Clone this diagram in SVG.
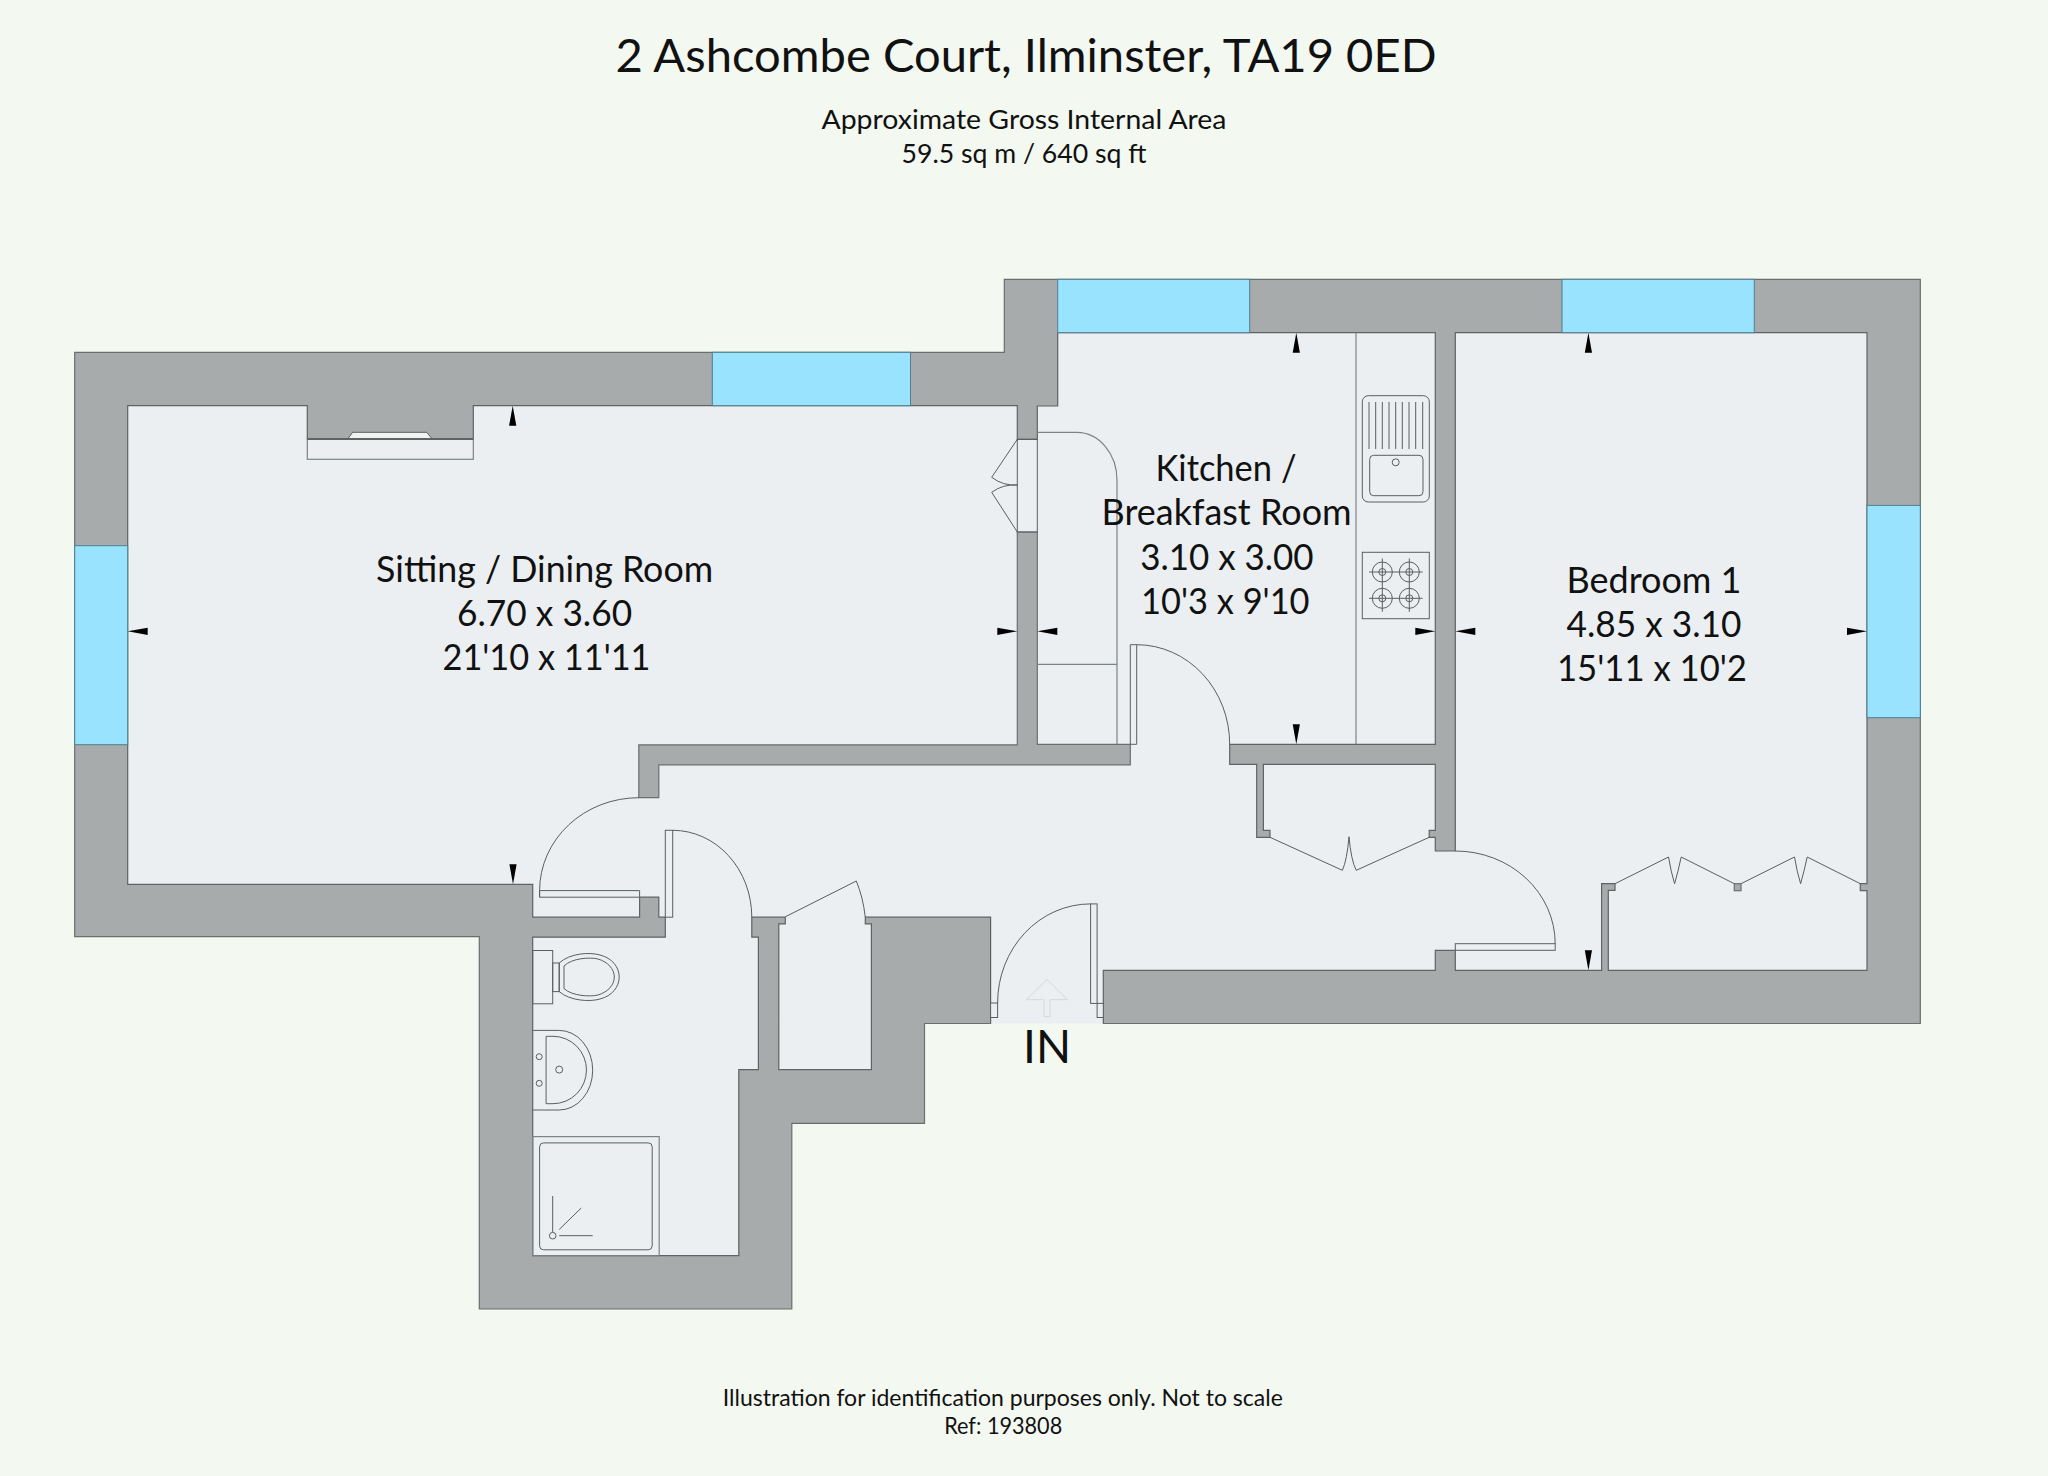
<svg xmlns="http://www.w3.org/2000/svg" xmlns:xlink="http://www.w3.org/1999/xlink" width="2048" height="1476" viewBox="0 0 2048 1476">
<style>
.wall{fill:#a8abab;stroke:#6a6e6e;stroke-width:1.2}
.floor{fill:#ebeff1}
.edge{fill:none;stroke:#5f6363;stroke-width:1.2}
.win{fill:#99e3fe;stroke:#4f7f90;stroke-width:1}
.ln{fill:none;stroke:#5a5e5e;stroke-width:1}
.lg{fill:none;stroke:#7d8282;stroke-width:1.2}
.lb{fill:#ebeff1;stroke:#5a5e5e;stroke-width:1}
.t{font-family:"Lato","Noto Sans",sans-serif;fill:#111;text-anchor:middle}
.big{font-size:47px}
.room{font-size:36px}
.sub{font-size:27.5px}
.foot{font-size:23.5px}
</style>
<defs>
<path id="arrow" d="M0 0L3.6 20H-3.6Z" fill="#000"/>
</defs>
<rect width="2048" height="1476" fill="#f3f8f0"/>

<path id="shell" class="wall" d="M74.7 352.3H1004.3V279.3H1920.3V1023.5H1103.3V1000H990.6V1023.5H924.5V1123.3H791.8V1309H479.3V936.6H74.7Z"/>
<path id="floor-fill" class="floor" d="M990.6 1023.5V917.2H865.3V923.9H871.4V1069.6H778.8V923.9H785.3V917.2H751.8V937.2H758.4V1069.6H738.8V1255.7H532.7V937.2H665.3V917.2H658.8V897.2H639.6V917.2H532.7V884.3H127.7V405.7H307.3V439H473.3V405.7H1017.3V439.3H1037.3V406H1057.7V332.7H1435.3V744.3H1229.7V764.3H1256.7V837.3H1270V830.3H1263.4V764.3H1435.3V830.3H1429.2V837.3H1435.3V851H1455.3V332.7H1867V883.7H1860.3V890.7H1867V970.3H1608.3V890.3H1615V883.7H1601.6V970.3H1455.3V950.3H1435.3V970.3H1103.3V1023.5Z"/>
<path id="floor-edge" class="edge" d="M990.6 1023.5V917.2H865.3V923.9H871.4V1069.6H778.8V923.9H785.3V917.2H751.8V937.2H758.4V1069.6H738.8V1255.7H532.7V937.2H665.3V917.2H658.8V897.2H639.6V917.2H532.7V884.3H127.7V405.7H307.3V439H473.3V405.7H1017.3V439.3H1037.3V406H1057.7V332.7H1435.3V744.3H1229.7V764.3H1256.7V837.3H1270V830.3H1263.4V764.3H1435.3V830.3H1429.2V837.3H1435.3V851H1455.3V332.7H1867V883.7H1860.3V890.7H1867V970.3H1608.3V890.3H1615V883.7H1601.6V970.3H1455.3V950.3H1435.3V970.3H1103.3V1023.5"/>
<path id="wall-hall" class="wall" d="M1017.3 532H1037.3V744.3H1130.3V764.8H658.8V797.7H638.8V744.8H1017.3Z"/>
<rect id="wardrobe-post" class="wall" x="1734.3" y="883.7" width="6.7" height="7"/>

<g id="windows">
<rect class="win" x="712.3" y="352.3" width="198.2" height="53.4"/>
<rect class="win" x="1057.7" y="279.3" width="192" height="53.4"/>
<rect class="win" x="1562" y="279.3" width="192.3" height="53.4"/>
<rect class="win" x="74.7" y="545.7" width="53" height="199"/>
<rect class="win" x="1867" y="505.4" width="53.3" height="212.3"/>
</g>

<g id="fireplace">
<rect class="lg" x="307.3" y="439" width="166" height="20.3"/>
<path d="M347.7 439L352.7 432.3H426.7L432.3 439Z" fill="#f2f4f4" stroke="#5a5e5e" stroke-width="1"/>
<path d="M307.3 439H473.3" fill="none" stroke="#5f6363" stroke-width="2"/>
</g>

<g id="doors">
<rect class="ln" x="1017.3" y="439.3" width="20" height="92.7"/>
<path class="ln" d="M1017.3 439.3L991.7 477.3Q1003 486 1017.3 485Q1003 484 991.7 492.3L1017.3 532"/>
<path class="lg" d="M1037.3 432.3H1076.7A40.3 47.7 0 0 1 1117 480V744.3M1037.3 664.3H1117"/>
<path class="ln" d="M1130.3 644.7H1136.7V744.3H1130.3Z"/>
<path class="ln" d="M1136.7 644.7A93 99.6 0 0 1 1229.7 744.3"/>
<path class="lb" d="M539.6 890.6H639.6V897.2H539.6Z"/>
<path class="ln" d="M638.8 797.7A99.2 92.9 0 0 0 539.6 890.6V897.2"/>
<rect class="lb" x="665.3" y="830.3" width="7.4" height="86.9"/>
<path class="ln" d="M672.7 830.3A79.1 86.9 0 0 1 751.8 917.2"/>
<path class="ln" d="M785.3 916.8L856.3 881Q863 897 865.3 917.2"/>
<rect class="lb" x="1455.3" y="943.7" width="99.9" height="6.6"/>
<path class="ln" d="M1455.3 851A99.9 92.7 0 0 1 1555.2 943.7"/>
<rect class="lb" x="990.6" y="1003" width="7" height="14.5"/>
<path class="ln" d="M997.6 1003A93 99.1 0 0 1 1090.6 903.9"/>
<rect class="lb" x="1090.6" y="903.9" width="6.5" height="99.5"/>
<rect class="lb" x="1097.1" y="1003.4" width="6.2" height="14.1"/>
<path class="ln" d="M1270 837.3L1342.4 870.3Q1347 860 1349 836.7Q1351 860 1356.2 870.3L1429.2 837.3"/>
<path class="ln" d="M1615 883.7L1668.5 857Q1671 872 1674.6 883.7Q1678 872 1681.2 857L1734.3 883.7M1741 883.7L1794.5 857Q1797 872 1800.6 883.7Q1804 872 1807.2 857L1860.3 883.7"/>
<path d="M1047 979.4L1067.3 999.7H1050V1016.7H1044V999.7H1026.5Z" fill="none" stroke="#d4d8d8" stroke-width="1"/>
</g>

<g id="kitchen-units">
<path class="lg" d="M1356 332.7V744.3"/>
<rect class="ln" x="1362.3" y="395.7" width="67" height="106.3" rx="6"/>
<rect class="ln" x="1369.7" y="455.3" width="53.3" height="40.4" rx="4"/>
<circle class="ln" cx="1395.7" cy="462.3" r="3.5"/>
<path class="ln" d="M1369 402V449M1375.7 402V449M1382.3 402V449M1389 402V449M1395.7 402V449M1402.3 402V449M1409 402V449M1415.7 402V449M1422.7 402V449"/>
<rect class="ln" x="1362.3" y="552.3" width="67" height="66.4"/>
<g class="ln">
<circle cx="1382.3" cy="572" r="10"/><circle cx="1382.3" cy="572" r="3.5"/>
<circle cx="1409.3" cy="572" r="10"/><circle cx="1409.3" cy="572" r="3.5"/>
<circle cx="1382.3" cy="598.3" r="10"/><circle cx="1382.3" cy="598.3" r="3.5"/>
<circle cx="1409.3" cy="598.3" r="10"/><circle cx="1409.3" cy="598.3" r="3.5"/>
<path d="M1369 572H1422.6M1369 598.3H1422.6M1382.3 558.5V611.8M1409.3 558.5V611.8"/>
</g>
</g>

<g id="bathroom">
<rect class="ln" x="532.7" y="950.5" width="20" height="53.3"/>
<rect class="ln" x="552.7" y="963" width="6.5" height="28.6"/>
<path class="ln" d="M559.2 963C570 953 590 952 600 955C612 958 619.2 967 619.2 977C619.2 987 612 996 600 999C590 1002 570 1001 559.2 991.6Z"/>
<path class="ln" d="M564 966C572 958 590 957 598 959C608 962 614.3 969 614.3 977C614.3 985 608 992 598 995C590 997 572 996 564 988.6Z"/>
<path class="ln" d="M532.7 1030.4H559.2A33.5 39.8 0 0 1 559.2 1110H532.7"/>
<path class="ln" d="M546.1 1036.3H553A33.5 33.7 0 0 1 553 1103.7H546.1Z"/>
<circle class="ln" cx="539.2" cy="1056.7" r="3"/>
<circle class="ln" cx="539.2" cy="1083.3" r="3"/>
<circle class="ln" cx="559.2" cy="1069.6" r="3.5"/>
<rect class="lg" x="532.7" y="1136.6" width="126.5" height="119.1"/>
<rect class="ln" x="539.6" y="1142.9" width="112.6" height="106.9" rx="4"/>
<circle class="ln" cx="552.7" cy="1235.7" r="3.3"/>
<path class="ln" d="M552.7 1196V1232M559.2 1235.7H592.7M559.2 1229.5L581.2 1208"/>
</g>

<g id="dimension-arrows">
<use xlink:href="#arrow" href="#arrow" transform="translate(512.7 405.7)"/>
<use xlink:href="#arrow" href="#arrow" transform="translate(513 884.3) rotate(180)"/>
<use xlink:href="#arrow" href="#arrow" transform="translate(127.7 631.3) rotate(-90)"/>
<use xlink:href="#arrow" href="#arrow" transform="translate(1017.3 631.3) rotate(90)"/>
<use xlink:href="#arrow" href="#arrow" transform="translate(1037.3 631.3) rotate(-90)"/>
<use xlink:href="#arrow" href="#arrow" transform="translate(1435.3 631.3) rotate(90)"/>
<use xlink:href="#arrow" href="#arrow" transform="translate(1455.3 631.3) rotate(-90)"/>
<use xlink:href="#arrow" href="#arrow" transform="translate(1867 631.3) rotate(90)"/>
<use xlink:href="#arrow" href="#arrow" transform="translate(1296.3 332.7)"/>
<use xlink:href="#arrow" href="#arrow" transform="translate(1296.3 744.3) rotate(180)"/>
<use xlink:href="#arrow" href="#arrow" transform="translate(1588.4 332.7)"/>
<use xlink:href="#arrow" href="#arrow" transform="translate(1588.4 970.3) rotate(180)"/>
</g>

<g id="labels">
<text class="t big" x="1026" y="71.7" textLength="821" lengthAdjust="spacingAndGlyphs">2 Ashcombe Court, Ilminster, TA19 0ED</text>
<text class="t sub" x="1024" y="129" textLength="405" lengthAdjust="spacingAndGlyphs">Approximate Gross Internal Area</text>
<text class="t sub" x="1024" y="162.7" textLength="245" lengthAdjust="spacingAndGlyphs">59.5 sq m / 640 sq ft</text>

<text class="t room" x="544.6" y="581.5" textLength="337" lengthAdjust="spacingAndGlyphs">Sitting / Dining Room</text>
<text class="t room" x="544.6" y="626" textLength="175" lengthAdjust="spacingAndGlyphs">6.70 x 3.60</text>
<text class="t room" x="546.5" y="670.4" textLength="208" lengthAdjust="spacingAndGlyphs">21'10 x 11'11</text>

<text class="t room" x="1226" y="481" textLength="141" lengthAdjust="spacingAndGlyphs">Kitchen /</text>
<text class="t room" x="1226.6" y="525" textLength="250" lengthAdjust="spacingAndGlyphs">Breakfast Room</text>
<text class="t room" x="1226.9" y="570" textLength="173.5" lengthAdjust="spacingAndGlyphs">3.10 x 3.00</text>
<text class="t room" x="1225.3" y="614.3" textLength="168.5" lengthAdjust="spacingAndGlyphs">10'3 x 9'10</text>

<text class="t room" x="1654" y="592.5" textLength="175" lengthAdjust="spacingAndGlyphs">Bedroom 1</text>
<text class="t room" x="1654" y="636.5" textLength="175" lengthAdjust="spacingAndGlyphs">4.85 x 3.10</text>
<text class="t room" x="1652" y="681" textLength="190" lengthAdjust="spacingAndGlyphs">15'11 x 10'2</text>

<text class="t" font-size="46" x="1047" y="1063" textLength="48" lengthAdjust="spacingAndGlyphs">IN</text>

<text class="t foot" x="1002.8" y="1405.7" textLength="560" lengthAdjust="spacingAndGlyphs">Illustration for identification purposes only. Not to scale</text>
<text class="t foot" x="1003.2" y="1434.3" textLength="118" lengthAdjust="spacingAndGlyphs">Ref: 193808</text>
</g>
</svg>
